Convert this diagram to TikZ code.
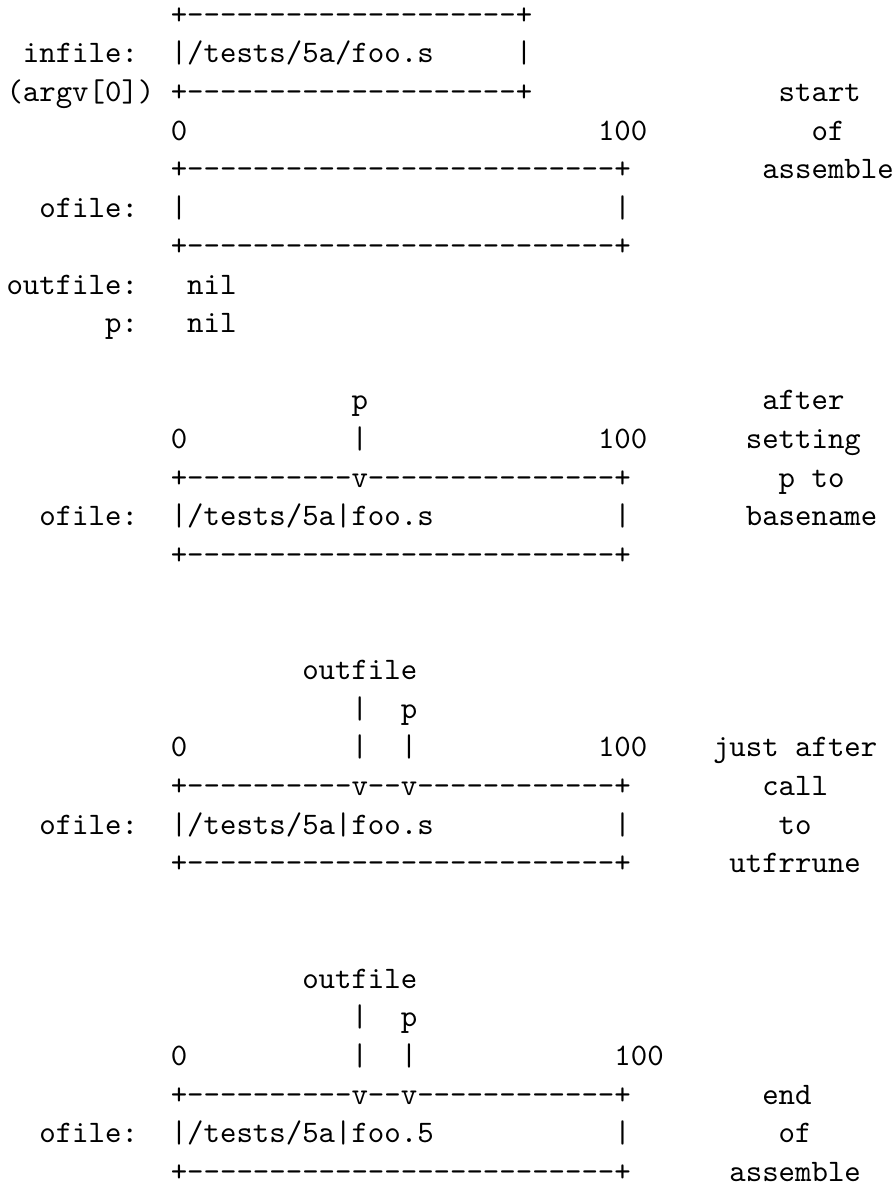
\documentclass[tikz,border=0pt]{standalone}
\newcount\dshn
\newcommand\dsh[1]{\dshn=#1\relax\loop-\kern0pt\advance\dshn by -1\relax\ifnum\dshn>0 \repeat}
\newcommand\T[4]{\node[txt] (#1) at ({2.08+#2*5.25},{371.16-(#3-1)*12.32}) {#4};}
\tikzset{txt/.style={anchor=base west, inner sep=0pt, outer sep=0pt, font=\fontsize{10}{12}\selectfont\ttfamily}}
\begin{document}
\begin{tikzpicture}[x=1pt,y=1pt]
\useasboundingbox (0,0) rectangle (285.99,378.97);
% section 1: start of assemble
\T{b1top}{10}{1}{+\dsh{20}+}
\T{lin}{1}{2}{infile:}
\T{b1val}{10}{2}{|/tests/5a/foo.s}
\T{b1r}{31}{2}{|}
\T{largv}{0}{3}{(argv[0])}
\T{b1bot}{10}{3}{+\dsh{20}+}
\T{c1a}{47}{3}{start}
\T{z1}{10}{4}{0}
\T{h1}{36}{4}{100}
\T{c1b}{49}{4}{of}
\T{b2top}{10}{5}{+\dsh{26}+}
\T{c1c}{46}{5}{assemble}
\T{lof1}{2}{6}{ofile:}
\T{b2l}{10}{6}{|}
\T{b2r}{37}{6}{|}
\T{b2bot}{10}{7}{+\dsh{26}+}
\T{lout}{0}{8}{outfile:}
\T{nil1}{11}{8}{nil}
\T{lp}{6}{9}{p:}
\T{nil2}{11}{9}{nil}
% section 2: after setting p to basename
\T{p2}{21}{11}{p}
\T{c2a}{46}{11}{after}
\T{z2}{10}{12}{0}
\T{p2bar}{21}{12}{|}
\T{h2}{36}{12}{100}
\T{c2b}{45}{12}{setting}
\T{b3top}{10}{13}{+\dsh{10}v\dsh{15}+}
\T{c2c}{47}{13}{p to}
\T{lof2}{2}{14}{ofile:}
\T{b3val}{10}{14}{|/tests/5a|foo.s}
\T{b3r}{37}{14}{|}
\T{c2d}{45}{14}{basename}
\T{b3bot}{10}{15}{+\dsh{26}+}
% section 3: just after call to utfrrune
\T{o3}{18}{18}{outfile}
\T{o3bar}{21}{19}{|}
\T{p3}{24}{19}{p}
\T{z3}{10}{20}{0}
\T{o3bar2}{21}{20}{|}
\T{p3bar}{24}{20}{|}
\T{h3}{36}{20}{100}
\T{c3a}{43}{20}{just after}
\T{b4top}{10}{21}{+\dsh{10}v\dsh{2}v\dsh{12}+}
\T{c3b}{46}{21}{call}
\T{lof3}{2}{22}{ofile:}
\T{b4val}{10}{22}{|/tests/5a|foo.s}
\T{b4r}{37}{22}{|}
\T{c3c}{47}{22}{to}
\T{b4bot}{10}{23}{+\dsh{26}+}
\T{c3d}{44}{23}{utfrrune}
% section 4: end of assemble
\T{o4}{18}{26}{outfile}
\T{o4bar}{21}{27}{|}
\T{p4}{24}{27}{p}
\T{z4}{10}{28}{0}
\T{o4bar2}{21}{28}{|}
\T{p4bar}{24}{28}{|}
\T{h4}{37}{28}{100}
\T{b5top}{10}{29}{+\dsh{10}v\dsh{2}v\dsh{12}+}
\T{c4a}{46}{29}{end}
\T{lof4}{2}{30}{ofile:}
\T{b5val}{10}{30}{|/tests/5a|foo.5}
\T{b5r}{37}{30}{|}
\T{c4b}{47}{30}{of}
\T{b5bot}{10}{31}{+\dsh{26}+}
\T{c4c}{44}{31}{assemble}
\end{tikzpicture}
\end{document}
